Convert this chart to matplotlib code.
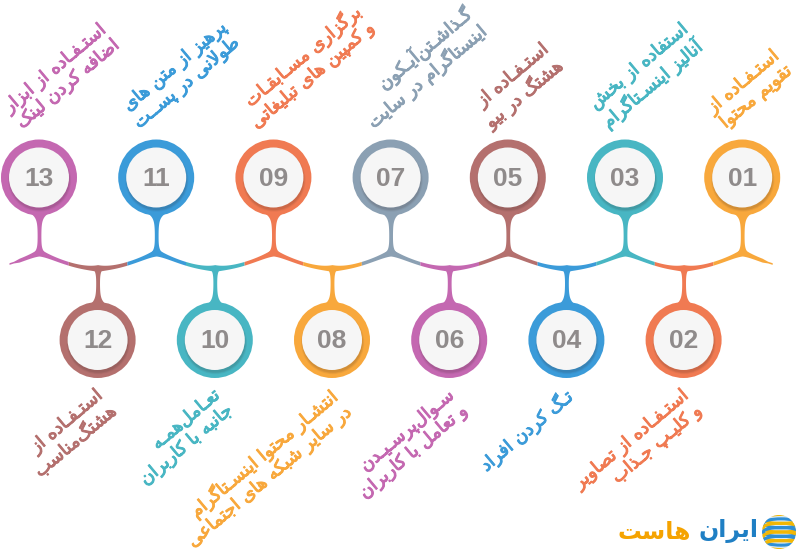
import numpy as np
import matplotlib
matplotlib.use("Agg")
import matplotlib.pyplot as plt
import matplotlib.patheffects as pe
from matplotlib.patches import Circle, Ellipse

# ---------------- data ----------------
step_numbers = ["13", "12", "11", "10", "09", "08", "07", "06", "05", "04", "03", "02", "01"]
step_labels = [
    "استـفـاده از ابزار\nاضافه کردن لینک",
    "استـفـاده از\nهشتگ‌مناسب",
    "پرهیز از متن های\nطولانی در پســت",
    "تعـامل‌همـه\nجانبه با کاربران",
    "برگزاری مسـابقـات\nو کمپین های تبلیغاتی",
    "انتشـار محتوا اینسـتاگرام\nدر سایر شبکه های اجتماعی",
    "گـذاشـتن‌آیـکون\nاینستاگرام در سایت",
    "سـوال‌پرسـیـدن\nو تعامل با کاربران",
    "استـفـاده از\nهشتگ در بیو",
    "تـگ کردن افراد",
    "استفاده از بخش\nآنالیز اینسـتاگرام",
    "استـفـاده از تصاویر\nو کلیـپ جـذاب",
    "استـفـاده از\nتقویم محتوا",
]
step_colors = ["#c468b1", "#b4706e", "#3b9bd9", "#48b6c3", "#f07a52", "#f8a83c", "#8ba0b3",
               "#c468b1", "#b4706e", "#3b9bd9", "#48b6c3", "#f07a52", "#f8a83c"]
logo_words = ["ایران", "هاست"]
logo_colors = ["#1f7fc4", "#f5a300"]

# ---------------- minimal Persian shaping ----------------
FORMS = {  # isolated, final, initial, medial
    "ا": (0xFE8D, 0xFE8E), "آ": (0xFE81, 0xFE82), "د": (0xFEA9, 0xFEAA), "ذ": (0xFEAB, 0xFEAC),
    "ر": (0xFEAD, 0xFEAE), "ز": (0xFEAF, 0xFEB0), "ژ": (0xFB8A, 0xFB8B), "و": (0xFEED, 0xFEEE),
    "ب": (0xFE8F, 0xFE90, 0xFE91, 0xFE92), "ت": (0xFE95, 0xFE96, 0xFE97, 0xFE98),
    "ث": (0xFE99, 0xFE9A, 0xFE9B, 0xFE9C), "ج": (0xFE9D, 0xFE9E, 0xFE9F, 0xFEA0),
    "ح": (0xFEA1, 0xFEA2, 0xFEA3, 0xFEA4), "خ": (0xFEA5, 0xFEA6, 0xFEA7, 0xFEA8),
    "س": (0xFEB1, 0xFEB2, 0xFEB3, 0xFEB4), "ش": (0xFEB5, 0xFEB6, 0xFEB7, 0xFEB8),
    "ص": (0xFEB9, 0xFEBA, 0xFEBB, 0xFEBC), "ض": (0xFEBD, 0xFEBE, 0xFEBF, 0xFEC0),
    "ط": (0xFEC1, 0xFEC2, 0xFEC3, 0xFEC4), "ظ": (0xFEC5, 0xFEC6, 0xFEC7, 0xFEC8),
    "ع": (0xFEC9, 0xFECA, 0xFECB, 0xFECC), "غ": (0xFECD, 0xFECE, 0xFECF, 0xFED0),
    "ف": (0xFED1, 0xFED2, 0xFED3, 0xFED4), "ق": (0xFED5, 0xFED6, 0xFED7, 0xFED8),
    "ل": (0xFEDD, 0xFEDE, 0xFEDF, 0xFEE0), "م": (0xFEE1, 0xFEE2, 0xFEE3, 0xFEE4),
    "ن": (0xFEE5, 0xFEE6, 0xFEE7, 0xFEE8), "ه": (0xFEE9, 0xFEEA, 0xFEEB, 0xFEEC),
    "ی": (0xFBFC, 0xFBFD, 0xFBFE, 0xFBFF), "پ": (0xFB56, 0xFB57, 0xFB58, 0xFB59),
    "چ": (0xFB7A, 0xFB7B, 0xFB7C, 0xFB7D), "ک": (0xFB8E, 0xFB8F, 0xFB90, 0xFB91),
    "گ": (0xFB92, 0xFB93, 0xFB94, 0xFB95),
}
TATWEEL = "\u0640"


def dual(ch):
    return ch == TATWEEL or (ch in FORMS and len(FORMS[ch]) == 4)


def joinable(ch):
    return ch == TATWEEL or ch in FORMS


def shape_line(s):
    out = []
    i = 0
    n = len(s)
    while i < n:
        c = s[i]
        prev = s[i - 1] if i > 0 else ""
        nxt = s[i + 1] if i + 1 < n else ""
        jp = dual(prev) and joinable(c)
        if c == "ل" and nxt in ("ا", "آ"):
            base = (0xFEFB, 0xFEFC) if nxt == "ا" else (0xFEF5, 0xFEF6)
            out.append(chr(base[1] if jp else base[0]))
            i += 2
            continue
        if c in FORMS:
            f = FORMS[c]
            jn = dual(c) and joinable(nxt)
            if len(f) == 2:
                out.append(chr(f[1] if jp else f[0]))
            else:
                if jp and jn:
                    out.append(chr(f[3]))
                elif jp:
                    out.append(chr(f[1]))
                elif jn:
                    out.append(chr(f[2]))
                else:
                    out.append(chr(f[0]))
        elif c == "\u200c":
            pass
        else:
            out.append(c)
        i += 1
    return "".join(reversed(out))


def fa(text):
    return "\n".join(shape_line(line) for line in text.split("\n"))


# ---------------- layout ----------------
X0, DX = 39.0, 58.6
YC_TOP, YC_BOT = 177.5, 340.0
YJ_TOP, YJ_BOT = 252.0, 268.0
R_OUT, R_IN = 38.0, 30.0

fig = plt.figure(figsize=(8, 5.6), dpi=100)
ax = fig.add_axes([0, 0, 1, 1])
ax.set_xlim(0, 800)
ax.set_ylim(560, 0)
ax.axis("off")

n = len(step_numbers)
xs = X0 + DX * np.arange(n)
is_top = np.arange(n) % 2 == 0
top_x = xs[is_top]
bot_x = xs[~is_top]


def wave_y(x):
    d = np.min(np.abs(x[:, None] - top_x[None, :]), axis=1) / DX
    t = np.clip(d, 0, 1)
    return YJ_TOP + (YJ_BOT - YJ_TOP) * np.sin(np.pi / 2 * t)


def wave_h(x):
    dt = np.min(np.abs(x[:, None] - top_x[None, :]), axis=1)
    db = np.min(np.abs(x[:, None] - bot_x[None, :]), axis=1)
    return 1.8 + 2.2 * np.exp(-dt / 7) + 1.6 * np.exp(-db / 8)


for i in range(n):
    c = step_colors[i]
    x = xs[i]
    left = x - DX / 2 if i > 0 else x - 30
    right = x + DX / 2 if i < n - 1 else x + 30
    xx = np.linspace(left, right, 120)
    yy = wave_y(xx)
    hh = wave_h(xx)
    if i == 0:
        hh = hh * np.clip((xx - left) / 10, 0.45, 1)
    if i == n - 1:
        hh = hh * np.clip((right - xx) / 10, 0.45, 1)
    ax.fill_between(xx, yy - hh, yy + hh, color=c, lw=0, zorder=2)

    if is_top[i]:
        yc = YC_TOP
        y0, y1 = yc + R_OUT - 4, YJ_TOP + 1.5
        ys = np.linspace(y0, y1, 80)
        w = 1.8 + 10 * np.exp(-(ys - y0) / 4.5) + 5.5 * np.exp(-(y1 - ys) / 3.5)
    else:
        yc = YC_BOT
        y0, y1 = YJ_BOT - 1.5, yc - R_OUT + 4
        ys = np.linspace(y0, y1, 80)
        w = 1.8 + 5.5 * np.exp(-(ys - y0) / 3.5) + 10 * np.exp(-(y1 - ys) / 4.5)
    ax.fill_betweenx(ys, x - w, x + w, color=c, lw=0, zorder=2)

    ax.add_patch(Circle((x, yc), R_OUT, color=c, lw=0, zorder=3))
    for k, a in enumerate([0.05, 0.06, 0.08]):
        ax.add_patch(Circle((x + 0.6, yc + 2.6), R_IN + 1.6 - 0.8 * k, color="#2a1a1a",
                            alpha=a, lw=0, zorder=4))
    ax.add_patch(Circle((x, yc), R_IN, color="#f6f6f6", lw=0, zorder=5))
    ax.text(x, yc + 1, step_numbers[i], ha="center", va="center", fontsize=19,
            fontweight="bold", color="#8f8b8b", family="Liberation Sans", zorder=6)

    stroke = [pe.withStroke(linewidth=0.7, foreground=c)]
    if is_top[i]:
        ax.text(x - 14, yc - 45, fa(step_labels[i]), rotation=40, rotation_mode="anchor",
                ha="left", va="bottom", multialignment="right", fontsize=13, color=c,
                family="DejaVu Sans", linespacing=1.12, zorder=6, path_effects=stroke)
    else:
        ax.text(x - 3, yc + 46, fa(step_labels[i]), rotation=40, rotation_mode="anchor",
                ha="right", va="top", multialignment="right", fontsize=13, color=c,
                family="DejaVu Sans", linespacing=1.12, zorder=6, path_effects=stroke)

# ---------------- logo ----------------
gx, gy, gr = 779, 532, 17
ax.add_patch(Circle((gx, gy), gr, color="#d9ecf8", lw=0, zorder=2))
clip = Circle((gx, gy), gr, transform=ax.transData)
for k, off in enumerate(np.linspace(-13, 13, 7)):
    e = Ellipse((gx + 2, gy + off), 2 * gr * 1.05, 9, fill=False,
                edgecolor="#f2b705" if k % 2 == 0 else "#2f8fd6", lw=2.2, zorder=3)
    ax.add_patch(e)
    e.set_clip_path(clip)
ax.text(758, 531, fa(logo_words[0]), ha="right", va="center", fontsize=17, fontweight="bold",
        color=logo_colors[0], family="DejaVu Sans", zorder=4)
ax.text(691, 531, fa(logo_words[1]), ha="right", va="center", fontsize=17, fontweight="bold",
        color=logo_colors[1], family="DejaVu Sans", zorder=4)

fig.savefig("out.png", dpi=100)
